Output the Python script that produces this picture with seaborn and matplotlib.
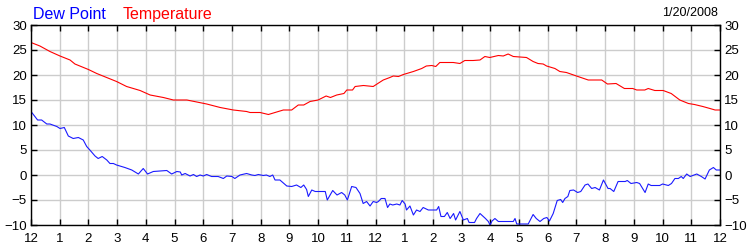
import matplotlib
matplotlib.use("Agg")
import matplotlib.pyplot as plt
import seaborn as sns
import pandas as pd

# Dew point readings (hours since midnight, deg C)
dew_hours = [0.0, 0.23, 0.37, 0.55, 0.66, 0.9, 1.01, 1.16, 1.3, 1.47, 1.65, 1.82, 1.94, 2.05,
             2.23, 2.34, 2.48, 2.64, 2.75, 2.87, 2.98, 3.16, 3.27, 3.51, 3.74, 3.91, 4.06, 4.26,
             4.73, 4.9, 5.08, 5.2, 5.25, 5.37, 5.54, 5.66, 5.77, 5.89, 6.0, 6.12, 6.29, 6.52,
             6.7, 6.82, 7.0, 7.1, 7.28, 7.51, 7.69, 7.8, 7.92, 8.09, 8.2, 8.32, 8.42, 8.5,
             8.67, 8.91, 9.08, 9.25, 9.4, 9.5, 9.6, 9.66, 9.78, 9.9, 10.07, 10.25, 10.32, 10.51,
             10.66, 10.82, 10.93, 11.02, 11.17, 11.32, 11.46, 11.57, 11.69, 11.81, 11.92, 12.04,
             12.1, 12.2, 12.33, 12.42, 12.5, 12.6, 12.74, 12.85, 12.93, 13.03, 13.08, 13.2,
             13.32, 13.43, 13.55, 13.66, 13.84, 14.13, 14.2, 14.28, 14.4, 14.5, 14.6, 14.72,
             14.79, 14.94, 15.06, 15.2, 15.26, 15.45, 15.52, 15.64, 15.83, 15.93, 15.99, 16.06,
             16.16, 16.28, 16.62, 16.8, 16.86, 16.92, 17.32, 17.49, 17.6, 17.73, 17.86, 17.97,
             18.06, 18.19, 18.33, 18.45, 18.52, 18.6, 18.7, 18.77, 18.9, 19.04, 19.15, 19.3,
             19.4, 19.53, 19.65, 19.8, 19.94, 20.1, 20.17, 20.3, 20.45, 20.7, 20.77, 20.9,
             21.1, 21.2, 21.39, 21.5, 21.6, 21.9, 22.0, 22.2, 22.31, 22.43, 22.55, 22.65,
             22.72, 22.84, 22.96, 23.19, 23.35, 23.48, 23.63, 23.77, 23.87, 24.0]
dew_point = [12.7, 11.0, 11.0, 10.2, 10.2, 9.7, 9.3, 9.5, 7.8, 7.3, 7.5, 7.0, 5.7, 5.0,
             3.8, 3.3, 3.7, 3.0, 2.3, 2.3, 2.0, 1.7, 1.5, 1.0, 0.2, 1.3, 0.2, 0.7,
             0.9, 0.2, 0.7, 0.6, 0.0, 0.3, -0.2, 0.1, -0.3, 0.0, -0.2, 0.1, -0.3, -0.3,
             -0.7, -0.2, -0.3, -0.7, 0.0, 0.3, 0.0, -0.1, 0.1, -0.1, 0.0, -0.3, 0.0, -1.0,
             -1.0, -2.2, -2.3, -2.0, -2.5, -2.0, -2.9, -4.3, -3.0, -3.3, -3.3, -3.3, -5.0, -3.1,
             -4.0, -3.5, -4.0, -5.0, -2.3, -2.5, -3.7, -5.7, -5.3, -6.2, -5.3, -5.5,
             -5.3, -4.7, -4.7, -6.5, -5.8, -6.0, -5.8, -6.0, -5.1, -5.8, -7.0, -6.2,
             -8.0, -7.0, -7.3, -6.5, -7.0, -7.0, -6.3, -8.3, -8.3, -7.5, -8.7, -7.7,
             -9.0, -7.3, -9.0, -8.7, -9.5, -9.5, -8.7, -7.7, -8.7, -9.3, -10.0, -9.2,
             -8.7, -9.3, -9.3, -9.3, -8.7, -9.8, -9.8, -7.9, -8.7, -9.3, -8.7, -8.5,
             -9.2, -7.7, -5.1, -4.9, -5.5, -4.7, -4.3, -3.1, -3.0, -3.5, -3.3, -2.0,
             -1.8, -2.7, -2.5, -3.0, -1.0, -2.7, -2.7, -3.3, -1.3, -1.3, -1.1, -1.7,
             -1.5, -1.7, -3.5, -1.8, -2.1, -2.1, -1.8, -2.1, -1.7, -0.7, -0.7, -0.3,
             -0.7, 0.2, -0.3, 0.2, -0.3, -0.8, 1.0, 1.5, 1.0, 1.0]

# Temperature readings (hours since midnight, deg C)
temp_hours = [0.0, 0.31, 0.66, 1.01, 1.36, 1.53, 2.0, 2.29, 2.98, 3.33, 3.8, 4.15, 4.61, 4.96,
              5.43, 6.12, 6.59, 7.05, 7.51, 7.63, 7.98, 8.27, 8.5, 8.79, 9.08, 9.31, 9.5, 9.72,
              10.0, 10.28, 10.43, 10.65, 10.9, 11.0, 11.2, 11.29, 11.58, 11.92, 12.08, 12.27,
              12.5, 12.62, 12.8, 12.97, 13.32, 13.61, 13.77, 13.96, 14.1, 14.24, 14.5, 14.71,
              14.94, 15.11, 15.4, 15.64, 15.81, 15.98, 16.28, 16.45, 16.62, 16.8, 17.26, 17.49,
              17.66, 17.84, 17.96, 18.25, 18.42, 18.65, 19.0, 19.41, 19.88, 20.08, 20.38, 20.67,
              20.96, 21.1, 21.38, 21.5, 21.73, 22.02, 22.3, 22.6, 22.9, 23.11, 23.4, 23.65,
              23.83, 24.0]
temperature = [26.5, 25.8, 24.7, 23.8, 23.0, 22.2, 21.1, 20.3, 18.7, 17.7, 16.9, 16.0, 15.5, 15.0,
               15.0, 14.2, 13.5, 13.0, 12.7, 12.5, 12.5, 12.1, 12.5, 13.0, 13.0, 14.0, 14.0, 14.7,
               15.0, 15.8, 15.5, 16.0, 16.3, 17.0, 17.0, 17.7, 17.9, 17.7, 18.3, 19.0,
               19.5, 19.8, 19.7, 20.1, 20.7, 21.3, 21.8, 21.9, 21.7, 22.5, 22.5, 22.5,
               22.3, 22.9, 22.9, 23.0, 23.7, 23.5, 23.9, 23.8, 24.2, 23.7, 23.5, 22.7,
               22.3, 22.2, 21.8, 21.3, 20.7, 20.5, 19.8, 19.0, 19.0, 18.2, 18.3, 17.3,
               17.3, 17.0, 17.0, 17.3, 16.9, 16.9, 16.3, 15.0, 14.3, 14.1, 13.7, 13.3,
               13.0, 13.0]

hour_ticks = list(range(0, 25))
hour_labels = ["12"] + [str(i) for i in range(1, 12)] + ["12"] + [str(i) for i in range(1, 12)] + ["12"]
y_ticks = [-10, -5, 0, 5, 10, 15, 20, 25, 30]
series_names = ["Dew Point", "Temperature"]
date_label = "1/20/2008"

sns.set_theme(style="white")
plt.rcParams["font.family"] = ["Liberation Sans", "DejaVu Sans"]

fig = plt.figure(figsize=(7.5, 2.5), dpi=100)
ax = fig.add_axes([31 / 750, 25 / 250, 689 / 750, 200 / 250])

dew_df = pd.DataFrame({"hour": dew_hours, "value": dew_point})
temp_df = pd.DataFrame({"hour": temp_hours, "value": temperature})
sns.lineplot(data=dew_df, x="hour", y="value", ax=ax, color="#1a1aff", linewidth=0.8)
sns.lineplot(data=temp_df, x="hour", y="value", ax=ax, color="#ff0000", linewidth=0.8)

ax.set_xlim(0, 24)
ax.set_ylim(-10, 30)
ax.set_xticks(hour_ticks)
ax.set_xticklabels(hour_labels)
ax.set_yticks(y_ticks)
ax.set_xlabel("")
ax.set_ylabel("")
ax.grid(True, color="#cccccc", linewidth=1.0)
ax.set_axisbelow(True)
for s in ax.spines.values():
    s.set_color("black")
    s.set_linewidth(1.0)
ax.tick_params(axis="x", direction="in", top=True, bottom=True, length=4, width=1,
               labelsize=9.5, pad=6, colors="black")
ax.tick_params(axis="y", direction="in", left=True, right=True, labelleft=True, labelright=True,
               length=4, width=1, labelsize=9.5, pad=3, colors="black")

fig.text(33 / 750, 1 - 19 / 250, series_names[0], color="#0000ff", fontsize=11.5, ha="left", va="baseline")
fig.text(123 / 750, 1 - 19 / 250, series_names[1], color="#ff0000", fontsize=11.5, ha="left", va="baseline")
fig.text(718 / 750, 1 - 16 / 250, date_label, color="black", fontsize=9, ha="right", va="baseline")

fig.savefig("out.png", dpi=100)
